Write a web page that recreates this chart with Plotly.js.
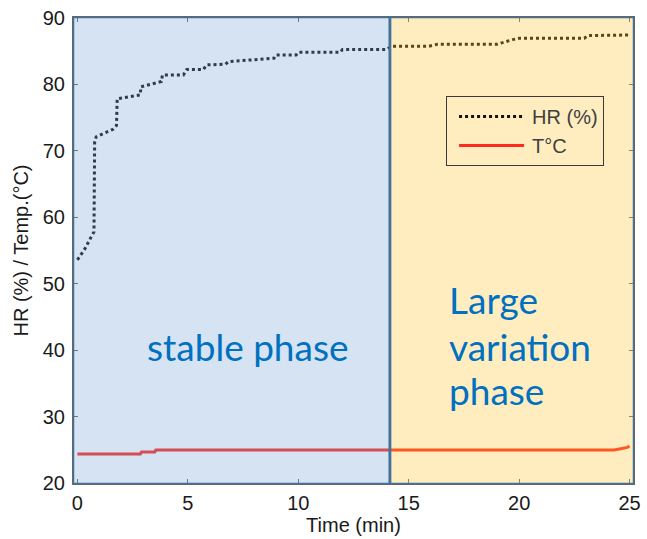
<!DOCTYPE html>
<html>
<head>
<meta charset="utf-8">
<script src="https://cdn.plot.ly/plotly-3.0.1.min.js"></script>
<style>html,body{margin:0;padding:0;background:#fff;}#chart{width:647px;height:539px;}</style>
</head>
<body>
<div id="chart"></div>
<script>
// Time (min) and relative humidity (%)
const hrTime = [0, 0.33, 0.6, 0.75, 0.78, 0.85, 1.6, 1.77, 1.8, 2.85, 2.87, 3.8, 3.85, 4.8, 4.95, 5.7, 5.85, 6.7, 6.85, 8.9, 9.0, 9.9, 10.0, 11.9, 12.0, 14.0, 14.2, 15.9, 16.3, 19.0, 19.7, 20.0, 22.95, 23.1, 25];
const hrValues = [53.6, 55.2, 56.9, 57.8, 71.3, 72.1, 73.2, 73.8, 77.8, 78.4, 79.6, 80.4, 81.4, 81.4, 82.2, 82.2, 82.9, 83.0, 83.4, 83.9, 84.4, 84.4, 84.8, 84.8, 85.2, 85.2, 85.7, 85.7, 86.0, 86.0, 86.7, 86.9, 86.9, 87.3, 87.4];
// Time (min) and temperature (°C)
const tTime = [0, 2.85, 2.9, 3.5, 3.55, 24.3, 24.6, 24.9, 25];
const tValues = [24.4, 24.4, 24.7, 24.7, 25.0, 25.0, 25.2, 25.4, 25.6];
// Phase boundaries (min)
const phaseStart = -0.2, phaseSplit = 14.15, phaseEnd = 25.2;
const xTicks = [0, 5, 10, 15, 20, 25];
const yTicks = [20, 30, 40, 50, 60, 70, 80, 90];
const seriesNames = ['HR (%)', 'T°C'];
const phaseLabels = ['stable phase', 'Large', 'variation', 'phase'];

const traces = [
  {x: hrTime, y: hrValues, name: seriesNames[0], mode: 'lines',
   line: {color: '#111111', width: 3, dash: 'dot'}},
  {x: tTime, y: tValues, name: seriesNames[1], mode: 'lines',
   line: {color: '#ff2a20', width: 3}}
];

const axisFont = {family: 'Liberation Sans, Arial, sans-serif', size: 20, color: '#1a1a1a'};
const textFont = {family: 'Lato, Carlito, sans-serif', size: 37, color: '#0070c0'};

const layout = {
  width: 647, height: 539,
  margin: {l: 73, r: 13, t: 17, b: 55},
  paper_bgcolor: '#ffffff', plot_bgcolor: '#ffffff',
  showlegend: true,
  legend: {x: 0.665, y: 0.831, xanchor: 'left', yanchor: 'top',
    bgcolor: 'rgba(0,0,0,0)', bordercolor: '#3a3a3a', borderwidth: 1,
    font: {family: 'Liberation Sans, Arial, sans-serif', size: 20, color: '#404040'},
    itemwidth: 75},
  xaxis: {range: [phaseStart, phaseEnd], tickvals: xTicks, ticktext: xTicks.map(String),
    ticks: 'inside', ticklen: 5, tickcolor: '#666', showline: true, linecolor: '#666', linewidth: 1,
    mirror: 'ticks', showgrid: false, zeroline: false, tickfont: axisFont, ticklabelstandoff: 1,
    title: {text: 'Time (min)', font: axisFont, standoff: 4}},
  yaxis: {range: [19.9, 90.1], tickvals: yTicks, ticktext: yTicks.map(String),
    ticks: 'inside', ticklen: 5, tickcolor: '#666', showline: true, linecolor: '#666', linewidth: 1,
    mirror: 'ticks', showgrid: false, zeroline: false, tickfont: axisFont, ticklabelstandoff: 3,
    title: {text: 'HR (%) / Temp.(°C)', font: axisFont, standoff: 8}},
  shapes: [
    {type: 'rect', xref: 'x', yref: 'y', x0: phaseStart, x1: phaseSplit, y0: 19.9, y1: 90.1,
     layer: 'above', fillcolor: '#73a2d4', opacity: 0.3, line: {width: 0}},
    {type: 'rect', xref: 'x', yref: 'y', x0: phaseSplit, x1: phaseEnd, y0: 19.9, y1: 90.1,
     layer: 'above', fillcolor: '#ffc32d', opacity: 0.3, line: {width: 0}},
    {type: 'rect', xref: 'x', yref: 'y', x0: phaseStart, x1: phaseSplit, y0: 19.9, y1: 90.1,
     layer: 'above', fillcolor: 'rgba(0,0,0,0)', line: {color: '#41719c', width: 2.5}},
    {type: 'rect', xref: 'x', yref: 'y', x0: phaseSplit, x1: phaseEnd, y0: 19.9, y1: 90.1,
     layer: 'above', fillcolor: 'rgba(0,0,0,0)', line: {color: '#41719c', width: 2.5}}
  ],
  annotations: [
    {x: 7.72, y: 40.6, xref: 'x', yref: 'y', text: phaseLabels[0], showarrow: false,
     xanchor: 'center', yanchor: 'middle', font: textFont},
    {x: 16.75, y: 47.6, xref: 'x', yref: 'y', text: phaseLabels[1], showarrow: false,
     xanchor: 'left', yanchor: 'middle', font: textFont},
    {x: 16.75, y: 40.6, xref: 'x', yref: 'y', text: phaseLabels[2], showarrow: false,
     xanchor: 'left', yanchor: 'middle', font: textFont},
    {x: 16.75, y: 33.9, xref: 'x', yref: 'y', text: phaseLabels[3], showarrow: false,
     xanchor: 'left', yanchor: 'middle', font: textFont}
  ]
};

Plotly.newPlot('chart', traces, layout, {displayModeBar: false, staticPlot: true}).then(function () {
  // lengthen the legend line samples to match the reference
  document.querySelectorAll('.legendlines path').forEach(function (p) {
    p.setAttribute('d', 'M12,0h65');
  });
});
</script>
</body>
</html>
